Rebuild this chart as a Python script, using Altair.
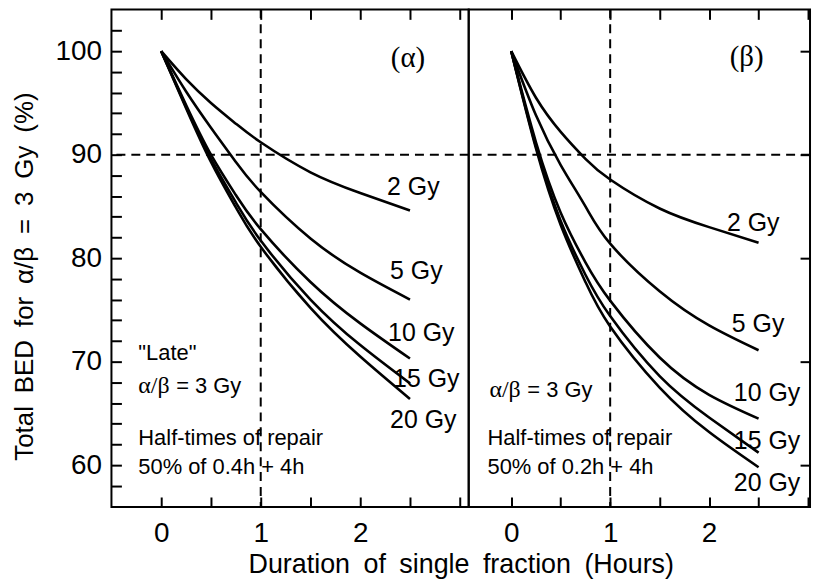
import altair as alt
import pandas as pd

# ---------------- data ----------------
hours = [0, 0.25, 0.5, 0.75, 1.0, 1.5, 2.0, 2.5]
doses = ["2 Gy", "5 Gy", "10 Gy", "15 Gy", "20 Gy"]

# panel (α): repair half-times 50% of 0.4 h + 4 h
left_2 = [100, 97.3, 95.0, 93.0, 91.2, 88.3, 86.3, 84.6]
left_5 = [100, 96.1, 92.6, 89.3, 86.4, 81.9, 78.6, 76.0]
left_10 = [100, 94.8, 90.0, 86.1, 82.8, 77.7, 73.7, 70.3]
left_15 = [100, 94.6, 89.6, 85.4, 81.7, 76.0, 71.6, 67.9]
left_20 = [100, 94.5, 89.3, 84.9, 81.1, 75.2, 70.5, 66.4]

# panel (β): repair half-times 50% of 0.2 h + 4 h
right_2 = [100, 95.5, 92.2, 89.6, 87.6, 84.8, 83.0, 81.5]
right_5 = [100, 93.8, 89.0, 85.0, 81.4, 76.8, 73.5, 71.1]
right_10 = [100, 91.2, 84.4, 79.6, 75.9, 70.4, 66.8, 64.5]
right_15 = [100, 90.8, 83.6, 78.4, 74.4, 68.6, 64.6, 61.2]
right_20 = [100, 90.6, 83.2, 77.7, 73.4, 67.5, 63.2, 59.8]

# dose labels at the curve ends (data coordinates)
left_label_x = [2.27, 2.30, 2.28, 2.33, 2.30]
left_label_y = [86.9, 78.75, 72.8, 68.3, 64.4]
right_label_x = [2.18, 2.23, 2.25, 2.25, 2.25]
right_label_y = [83.4, 73.6, 67.0, 62.3, 58.3]

# annotation blocks
left_notes = ['"Late"', "Half-times of repair", "50% of 0.4h + 4h"]
left_note_x = [-0.23, -0.23, -0.23]
left_note_y = [70.8, 62.6, 59.8]
right_notes = ["Half-times of repair", "50% of 0.2h + 4h"]
right_note_x = [-0.24, -0.24]
right_note_y = [62.6, 59.8]

ratio_greek = "α/β"
ratio_value = "= 3 Gy"
ratio_x = [-0.23, -0.22]
ratio_y = [67.6, 67.3]

panel_tags = ["(α)", "(β)"]
tag_x = [2.48, 2.38]
tag_y = [99.3, 99.4]

x_ticks = [0, 0.5, 1, 1.5, 2, 2.5, 3]
y_ticks = list(range(58, 104, 2))
y_major = [60, 70, 80, 90, 100]
ref_hours = [1.0]
ref_bed = [90]

Y_DOMAIN = [55.96, 104.04]
SANS = "Liberation Sans"
SERIF = "Liberation Serif"


def curves_df(series):
    rows = []
    for dose, vals in zip(doses, series):
        for h, v in zip(hours, vals):
            rows.append({"hours": h, "bed": v, "dose": dose})
    return pd.DataFrame(rows)


def text_layer(xs, ys, xv, yv, texts, font, size, align="left", dx=0):
    return alt.Chart(pd.DataFrame({"x": xv, "y": yv, "t": texts})).mark_text(
        align=align, baseline="middle", font=font, fontSize=size, color="black", dx=dx
    ).encode(
        x=alt.X("x:Q", scale=xs, axis=None),
        y=alt.Y("y:Q", scale=ys, axis=None),
        text="t:N",
    )


def make_panel(series, xdomain, width, lab_x, lab_y, notes, nx, ny,
               rx, ry, tag, tx, ty, is_left):
    xs = alt.Scale(domain=xdomain, nice=False, zero=False)
    ys = alt.Scale(domain=Y_DOMAIN, nice=False, zero=False)

    bottom_kw = dict(
        orient="bottom", values=x_ticks,
        labelExpr="(datum.value % 1 == 0 && datum.value < 3) ? '' + datum.value : ''",
        domain=False, grid=False, tickSize=10, tickWidth=2, tickColor="black",
        offset=-10, labelPadding=13, labelFont=SANS, labelFontSize=28,
        labelColor="black", labelFlush=False, labelOverlap=False,
    )
    if is_left:
        bottom_kw.update(
            title="Duration\u2002of\u2002single\u2002fraction\u2002(Hours)",
            titleFont=SANS, titleFontSize=27, titleFontWeight="normal",
            titleColor="black", titleX=351, titleY=68,
            titleAlign="center", titleBaseline="middle", titleAnchor="start",
        )
        bottom_axis = alt.Axis(**bottom_kw)
        y_axis = alt.Axis(
            orient="left", values=y_ticks,
            labelExpr="datum.value % 10 == 0 ? '' + datum.value : ''",
            domain=False, grid=False, tickSize=10, tickWidth=2, tickColor="black",
            offset=-10, labelPadding=10, labelFont=SANS, labelFontSize=28,
            labelColor="black", labelOverlap=False, labelFlush=False,
            title="Total\u2002BED\u2002for\u2002α/β\u2002=\u20023\u2002Gy\u2002(%)",
            titleFont=SANS, titleFontSize=26, titleFontWeight="normal",
            titleColor="black", titleX=-97, titleY=268, titleAngle=270,
            titleAlign="center", titleBaseline="middle", titleAnchor="start",
        )
        x_enc = alt.X("hours:Q", scale=xs, axis=bottom_axis)
        y_enc = alt.Y("bed:Q", scale=ys, axis=y_axis)
    else:
        bottom_axis = alt.Axis(**bottom_kw)
        y_axis = alt.Axis(
            orient="right", values=y_major, labels=False,
            domain=False, grid=False, tickSize=10, tickWidth=2, tickColor="black",
            offset=-10,
        )
        x_enc = alt.X("hours:Q", scale=xs, axis=bottom_axis, title=None)
        y_enc = alt.Y("bed:Q", scale=ys, axis=y_axis, title=None)

    top_axis = alt.Axis(
        orient="top", values=x_ticks, labels=False, domain=False, grid=False,
        tickSize=10, tickWidth=2, tickColor="black", offset=-10,
    )

    lines = alt.Chart(curves_df(series)).mark_line(
        color="black", strokeWidth=2.6, interpolate="natural"
    ).encode(x=x_enc, y=y_enc, detail="dose:N")

    vrule = alt.Chart(pd.DataFrame({"hours": ref_hours})).mark_rule(
        color="black", strokeWidth=2, strokeDash=[9, 6]
    ).encode(x=alt.X("hours:Q", scale=xs, axis=top_axis, title=None))

    hrule = alt.Chart(pd.DataFrame({"bed": ref_bed})).mark_rule(
        color="black", strokeWidth=2, strokeDash=[9, 6]
    ).encode(y=alt.Y("bed:Q", scale=ys, axis=None))

    labels = text_layer(xs, ys, lab_x, lab_y, doses, SANS, 25)
    note = text_layer(xs, ys, nx, ny, notes, SANS, 22)
    ratio_g = text_layer(xs, ys, [rx], [ry], [ratio_greek], SERIF, 24)
    ratio_v = text_layer(xs, ys, [rx], [ry], [ratio_value], SANS, 22, dx=38)
    tag_layer = text_layer(xs, ys, [tx], [ty], [tag], SERIF, 29, align="center")

    return alt.layer(
        lines, vrule, hrule, labels, note, ratio_g, ratio_v, tag_layer
    ).resolve_axis(x="independent", y="independent").properties(width=width, height=500)


left = make_panel(
    [left_2, left_5, left_10, left_15, left_20], [-0.5, 3.09], 359,
    left_label_x, left_label_y, left_notes, left_note_x, left_note_y,
    ratio_x[0], ratio_y[0], panel_tags[0], tag_x[0], tag_y[0], True,
)
right = make_panel(
    [right_2, right_5, right_10, right_15, right_20], [-0.43, 3.02], 343,
    right_label_x, right_label_y, right_notes, right_note_x, right_note_y,
    ratio_x[1], ratio_y[1], panel_tags[1], tag_x[1], tag_y[1], False,
)

chart = alt.hconcat(left, right, spacing=0, bounds="flush").properties(
    padding={"left": 10, "top": 6, "right": 2, "bottom": 5},
    background="white",
).configure_view(stroke="black", strokeWidth=2)

chart.save("out.html", embed_options={"renderer": "svg", "actions": False})
